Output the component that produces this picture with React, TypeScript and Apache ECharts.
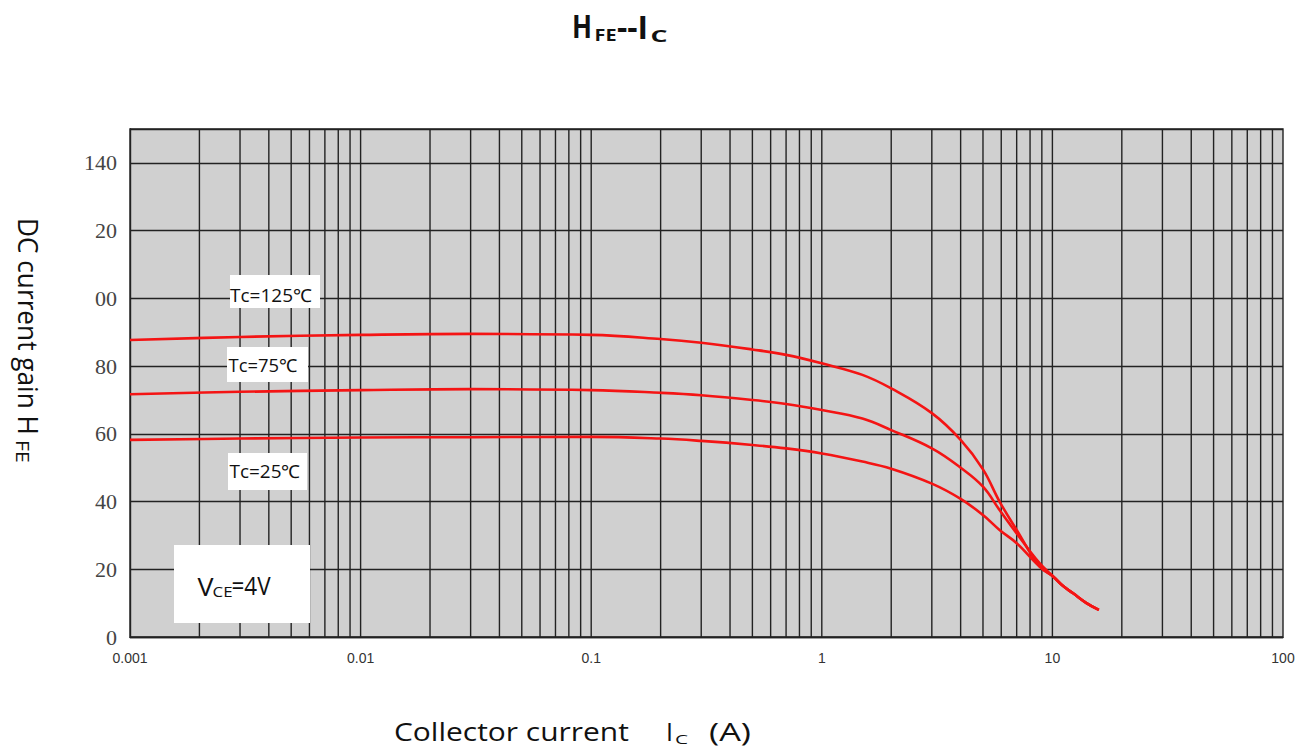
import React, { useEffect, useRef } from "react";
import * as echarts from "echarts";

// ---- data ----
const icPoints = [0.001, 0.003, 0.01, 0.03, 0.1, 0.2, 0.3, 0.5, 0.7, 1, 1.5, 2, 3, 4, 5, 5.9, 7, 8.8, 10.1, 11.1, 12.3, 14, 15.9];
const hfe125 = [87.7, 88.6, 89.2, 89.5, 89.2, 88.0, 86.9, 84.9, 83.3, 80.8, 77.4, 73.4, 66.1, 58.2, 49.5, 40.0, 31.6, 20.8, 17.8, 15.1, 12.9, 10.1, 8.0];
const hfe75 = [71.7, 72.4, 72.9, 73.2, 72.9, 72.1, 71.4, 70.0, 68.8, 67.0, 64.5, 61.1, 55.7, 50.0, 44.4, 37.5, 30.6, 21.8, 17.8, 15.1, 12.9, 10.1, 8.0];
const hfe25 = [58.2, 58.6, 58.9, 59.0, 59.1, 58.6, 57.9, 56.7, 55.7, 54.2, 51.8, 49.7, 45.3, 40.8, 36.0, 31.6, 27.7, 20.8, 17.8, 15.1, 12.9, 10.1, 8.0];

const seriesNames = ["Tc=125℃", "Tc=75℃", "Tc=25℃"];

// axis structure
const xDecades = [0.001, 0.01, 0.1, 1, 10];
const xMultipliers = [1, 2, 3, 4, 5, 6, 7, 8, 9];
const xTickLabels: Record<string, string> = {
  "0.001": "0.001",
  "0.01": "0.01",
  "0.1": "0.1",
  "1": "1",
  "10": "10",
  "100": "100",
};
const yTickLabels: Record<number, string> = {
  0: "0",
  20: "20",
  40: "40",
  60: "60",
  80: "80",
  100: "00",
  120: "20",
  140: "140",
};

const gridXValues: number[] = [];
xDecades.forEach((d) => xMultipliers.forEach((m) => { if (!(d === 0.001 && m === 1)) gridXValues.push(+(d * m).toPrecision(3)); }));

const LINE_RED = "#f41414";
const GRID_COLOR = "#222222";
const FONT = "Open Sans";
const TEXT_COLOR = "#111111";

function pairs(xs: number[], ys: number[]) {
  return xs.map((x, i) => [x, ys[i]]);
}

function measureWidth(text: string, fontSize: number, fontWeight: string, family = FONT) {
  const t = new (echarts.graphic as any).Text({ style: { text, fontSize, fontFamily: family, fontWeight } });
  return t.getBoundingRect().width || 1;
}

// a text piece fitted to a left edge and a width, vertically centred on its caps
function piece(text: string, left: number, width: number, cy: number, fontSize: number, fontWeight = "normal", extra: any = {}) {
  const w = measureWidth(text, fontSize, fontWeight);
  return {
    type: "text",
    z: 101,
    x: left,
    y: cy,
    scaleX: width / w,
    ...extra,
    style: { text, fontSize, fontFamily: FONT, fontWeight, fill: TEXT_COLOR, align: "left", verticalAlign: "middle" },
  };
}

// rotated (reads top to bottom) piece: starts at y = top, runs `length` px downwards
function vpiece(text: string, top: number, length: number, cx: number, fontSize: number, thick = 1.15) {
  const w = measureWidth(text, fontSize, "normal");
  return {
    type: "text",
    z: 101,
    x: cx,
    y: top,
    rotation: -Math.PI / 2,
    scaleX: length / w,
    scaleY: thick,
    style: { text, fontSize, fontFamily: FONT, fill: TEXT_COLOR, align: "left", verticalAlign: "middle" },
  };
}

const Y_LABEL_FONT = "Liberation Serif";
const Y_LABEL_SIZE = 22;

export default function App() {
  const ref = useRef<HTMLDivElement>(null);
  useEffect(() => {
    if (!ref.current) return;
    const chart = echarts.init(ref.current, undefined, { renderer: "svg" });
    const curveSeries = [hfe125, hfe75, hfe25].map((ys, i) => ({
      name: seriesNames[i],
      type: "line",
      data: pairs(icPoints, ys),
      smooth: 0.4,
      symbol: "none",
      lineStyle: { color: LINE_RED, width: 2.6 },
      z: 5,
    }));
    chart.setOption({
      animation: false,
      backgroundColor: "#ffffff",
      textStyle: { fontFamily: "Liberation Sans" },
      grid: {
        left: 130,
        right: 17,
        top: 129,
        bottom: 112,
        show: true,
        backgroundColor: "#d0d0d0",
        borderColor: GRID_COLOR,
        borderWidth: 1.4,
      },
      xAxis: {
        type: "log",
        logBase: 10,
        min: 0.001,
        max: 100,
        axisLine: { show: true, lineStyle: { color: GRID_COLOR, width: 1.4 } },
        axisTick: { show: false },
        splitLine: { show: false },
        axisLabel: {
          margin: 14,
          fontFamily: "Liberation Sans",
          fontSize: 14,
          color: "#333",
          formatter: (v: number) => xTickLabels[String(+v.toPrecision(3))] ?? "",
        },
      },
      yAxis: {
        type: "value",
        min: 0,
        max: 150,
        interval: 20,
        axisLine: { show: true, lineStyle: { color: GRID_COLOR, width: 1.4 } },
        axisTick: { show: false },
        splitLine: { show: true, lineStyle: { color: GRID_COLOR, width: 1.4 } },
        axisLabel: {
          margin: 13,
          fontFamily: Y_LABEL_FONT,
          fontSize: Y_LABEL_SIZE,
          fontWeight: "normal",
          color: "#444",
          width: 40,
          overflow: "none",
          formatter: (v: number) => yTickLabels[v] ?? "",
        },
      },
      series: [
        {
          type: "custom",
          silent: true,
          z: 1,
          data: gridXValues.map((v) => [v, 0]),
          encode: { x: 0, y: 1 },
          renderItem: (params: any, api: any) => {
            const v = api.value(0);
            const p1 = api.coord([v, 0]);
            const p2 = api.coord([v, 150]);
            return {
              type: "line",
              shape: { x1: p1[0], y1: p1[1], x2: p2[0], y2: p2[1] },
              style: { stroke: GRID_COLOR, lineWidth: 1.4 },
            };
          },
        },
        ...curveSeries,
      ],
      graphic: [
        // title H_FE--I_C
        piece("H", 572, 20, 25.5, 33, "bold"),
        piece("FE", 594.5, 22, 35, 16.5, "bold"),
        piece("--I", 617, 31, 25.5, 33, "bold"),
        piece("C", 650.5, 17, 35, 16.5, "bold"),
        // y axis name
        vpiece("DC current gain H", 218, 217, 29, 24),
        vpiece("FE", 440, 23, 23, 15),
        // x axis name
        piece("Collector current", 394, 235, 731, 25),
        piece("I", 666, 7, 731, 25),
        piece("C", 675, 13, 739, 13),
        piece("(A)", 709, 42, 731, 25),
        // Tc labels
        { type: "rect", z: 100, shape: { x: 230, y: 275, width: 90, height: 33 }, style: { fill: "#fff" } },
        piece(seriesNames[0], 230, 82, 294.5, 18),
        { type: "rect", z: 100, shape: { x: 227, y: 347, width: 81, height: 35 }, style: { fill: "#fff" } },
        piece(seriesNames[1], 228.5, 69, 365, 18),
        { type: "rect", z: 100, shape: { x: 228, y: 453, width: 79, height: 37 }, style: { fill: "#fff" } },
        piece(seriesNames[2], 229.5, 71, 471, 18),
        // VCE box
        { type: "rect", z: 100, shape: { x: 174, y: 545, width: 136, height: 78 }, style: { fill: "#fff" } },
        piece("V", 197.5, 16, 586, 25),
        piece("CE", 212.5, 20, 592, 14),
        piece("=4V", 231.5, 39, 586, 25),
      ],
    });
    return () => chart.dispose();
  }, []);
  return <div ref={ref} style={{ position: "fixed", left: 0, top: 0, width: 1300, height: 749 }} />;
}
